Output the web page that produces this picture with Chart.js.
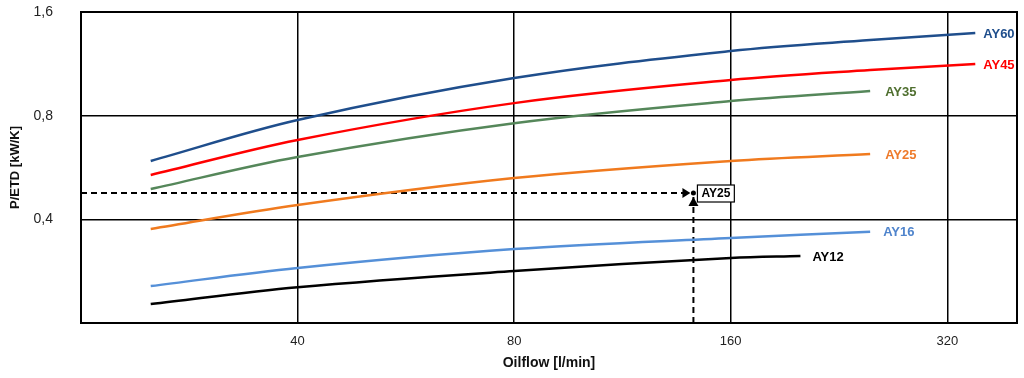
<!DOCTYPE html>
<html><head><meta charset="utf-8">
<script src="https://cdn.jsdelivr.net/npm/chart.js@4/dist/chart.umd.min.js"></script>
<style>html,body{margin:0;padding:0;background:#fff;overflow:hidden}</style>
</head><body>
<canvas id="c" width="1024" height="378"></canvas>
<script>
// ---- data ----
const seriesNames = ['AY60', 'AY45', 'AY35', 'AY25', 'AY16', 'AY12'];
const flowAY60 = [25, 40, 80, 160, 250, 350];
const valAY60  = [0.591, 0.777, 1.029, 1.232, 1.326, 1.39];
const flowAY45 = [25, 40, 80, 160, 250, 350];
const valAY45  = [0.538, 0.680, 0.870, 1.015, 1.085, 1.13];
const flowAY35 = [25, 40, 80, 160, 250];
const valAY35  = [0.490, 0.607, 0.761, 0.882, 0.943];
const flowAY25 = [25, 40, 80, 160, 250];
const valAY25  = [0.375, 0.440, 0.527, 0.591, 0.619];
const flowAY16 = [25, 40, 80, 160, 250];
const valAY16  = [0.256, 0.289, 0.328, 0.353, 0.368];
const flowAY12 = [25, 40, 80, 160, 200];
const valAY12  = [0.227, 0.254, 0.283, 0.309, 0.313];
const xTicks = [40, 80, 160, 320];
const yTicks = [0.4, 0.8, 1.6];
const xMin = 20, xMax = 400, yMin = 0.2, yMax = 1.6;
const opFlow = 142, opValue = 0.477, opLabel = 'AY25';

const lineColors  = ['#1f4e8c', '#ff0000', '#55875a', '#f07a1e', '#5590d8', '#000000'];
const labelColors = ['#1f4e8c', '#ff0000', '#4f6f2f', '#ee7a2a', '#4f84cc', '#000000'];
const labelDx     = [8, 8, 15, 15, 13, 12];

const flows = [flowAY60, flowAY45, flowAY35, flowAY25, flowAY16, flowAY12];
const vals  = [valAY60, valAY45, valAY35, valAY25, valAY16, valAY12];

const datasets = seriesNames.map((n, i) => ({
  label: n,
  data: flows[i].map((f, k) => ({x: f, y: vals[i][k]})),
  borderColor: lineColors[i],
  borderWidth: 2.5,
  pointRadius: 0,
  tension: 0.35,
  fill: false,
  endLabel: true,
  labelColor: labelColors[i],
  labelDx: labelDx[i]
}));
// operating point guide lines
datasets.push({
  label: 'h', data: [{x: xMin, y: opValue}, {x: opFlow, y: opValue}],
  borderColor: '#000', borderWidth: 2, borderDash: [6, 4], pointRadius: 0
});
datasets.push({
  label: 'v', data: [{x: opFlow, y: yMin}, {x: opFlow, y: opValue}],
  borderColor: '#000', borderWidth: 2, borderDash: [6, 4], pointRadius: 0
});

const deco = {
  id: 'deco',
  afterDatasetsDraw(chart) {
    const ctx = chart.ctx, xs = chart.scales.x, ys = chart.scales.y, a = chart.chartArea;
    ctx.save();
    chart.data.datasets.forEach((ds, i) => {
      if (!ds.endLabel) return;
      const last = ds.data[ds.data.length - 1];
      const px = xs.getPixelForValue(last.x), py = ys.getPixelForValue(last.y);
      ctx.font = 'bold 13px "Liberation Sans", Arial, sans-serif';
      ctx.fillStyle = ds.labelColor;
      ctx.textBaseline = 'middle';
      ctx.textAlign = 'left';
      ctx.fillText(ds.label, px + ds.labelDx, py + 1);
    });
    const ox = xs.getPixelForValue(opFlow), oy = ys.getPixelForValue(opValue);
    ctx.fillStyle = '#000';
    ctx.beginPath();
    ctx.moveTo(ox - 3, oy); ctx.lineTo(ox - 11, oy - 5); ctx.lineTo(ox - 11, oy + 5); ctx.closePath(); ctx.fill();
    ctx.beginPath();
    ctx.moveTo(ox, oy + 4); ctx.lineTo(ox - 5, oy + 13); ctx.lineTo(ox + 5, oy + 13); ctx.closePath(); ctx.fill();
    ctx.beginPath(); ctx.arc(ox, oy, 2.5, 0, Math.PI * 2); ctx.fill();
    ctx.font = 'bold 12px "Liberation Sans", Arial, sans-serif';
    const w = ctx.measureText(opLabel).width + 8;
    ctx.fillStyle = '#fff';
    ctx.fillRect(ox + 4, oy - 8, w, 17);
    ctx.strokeStyle = '#000'; ctx.lineWidth = 1.2;
    ctx.strokeRect(ox + 4, oy - 8, w, 17);
    ctx.fillStyle = '#000'; ctx.textAlign = 'left'; ctx.textBaseline = 'middle';
    ctx.fillText(opLabel, ox + 8, oy + 1);
    ctx.lineWidth = 2; ctx.strokeStyle = '#000';
    ctx.strokeRect(a.left, a.top, a.right - a.left, a.bottom - a.top);
    ctx.restore();
  }
};

new Chart(document.getElementById('c'), {
  type: 'line',
  data: { datasets },
  options: {
    responsive: false,
    animation: false,
    layout: { padding: { left: 0, top: 12, right: 7, bottom: 0 } },
    plugins: { legend: { display: false }, tooltip: { enabled: false } },
    scales: {
      x: {
        type: 'logarithmic', min: xMin, max: xMax,
        afterBuildTicks(s) { s.ticks = xTicks.map(v => ({value: v})); },
        afterFit(s) { s.height = 55; s.paddingLeft = 0; s.paddingRight = 0; },
        grid: { color: '#000', lineWidth: 1.5, drawTicks: false },
        border: { display: false },
        ticks: { color: '#222', padding: 11, autoSkip: false, maxRotation: 0,
                 font: { family: '"Liberation Sans", Arial, sans-serif', size: 13 },
                 callback: (v) => String(v) },
        title: { display: true, text: 'Oilflow [l/min]', color: '#111',
                 font: { family: '"Liberation Sans", Arial, sans-serif', size: 14, weight: 'bold' },
                 padding: { top: 0, bottom: 6 } }
      },
      y: {
        type: 'logarithmic', min: yMin, max: yMax,
        afterBuildTicks(s) { s.ticks = yTicks.map(v => ({value: v})); },
        afterFit(s) { s.width = 81; s.paddingTop = 0; s.paddingBottom = 0; },
        grid: { color: '#000', lineWidth: 1.5, drawTicks: false },
        border: { display: false },
        ticks: { color: '#222', padding: 28, autoSkip: false,
                 font: { family: '"Liberation Sans", Arial, sans-serif', size: 14 },
                 callback: (v) => String(v).replace('.', ',') },
        title: { display: true, text: 'P/ETD [kW/K]', color: '#111',
                 font: { family: '"Liberation Sans", Arial, sans-serif', size: 13, weight: 'bold' },
                 padding: { top: 8, bottom: 0 } }
      }
    }
  },
  plugins: [deco]
});
</script>
</body></html>
